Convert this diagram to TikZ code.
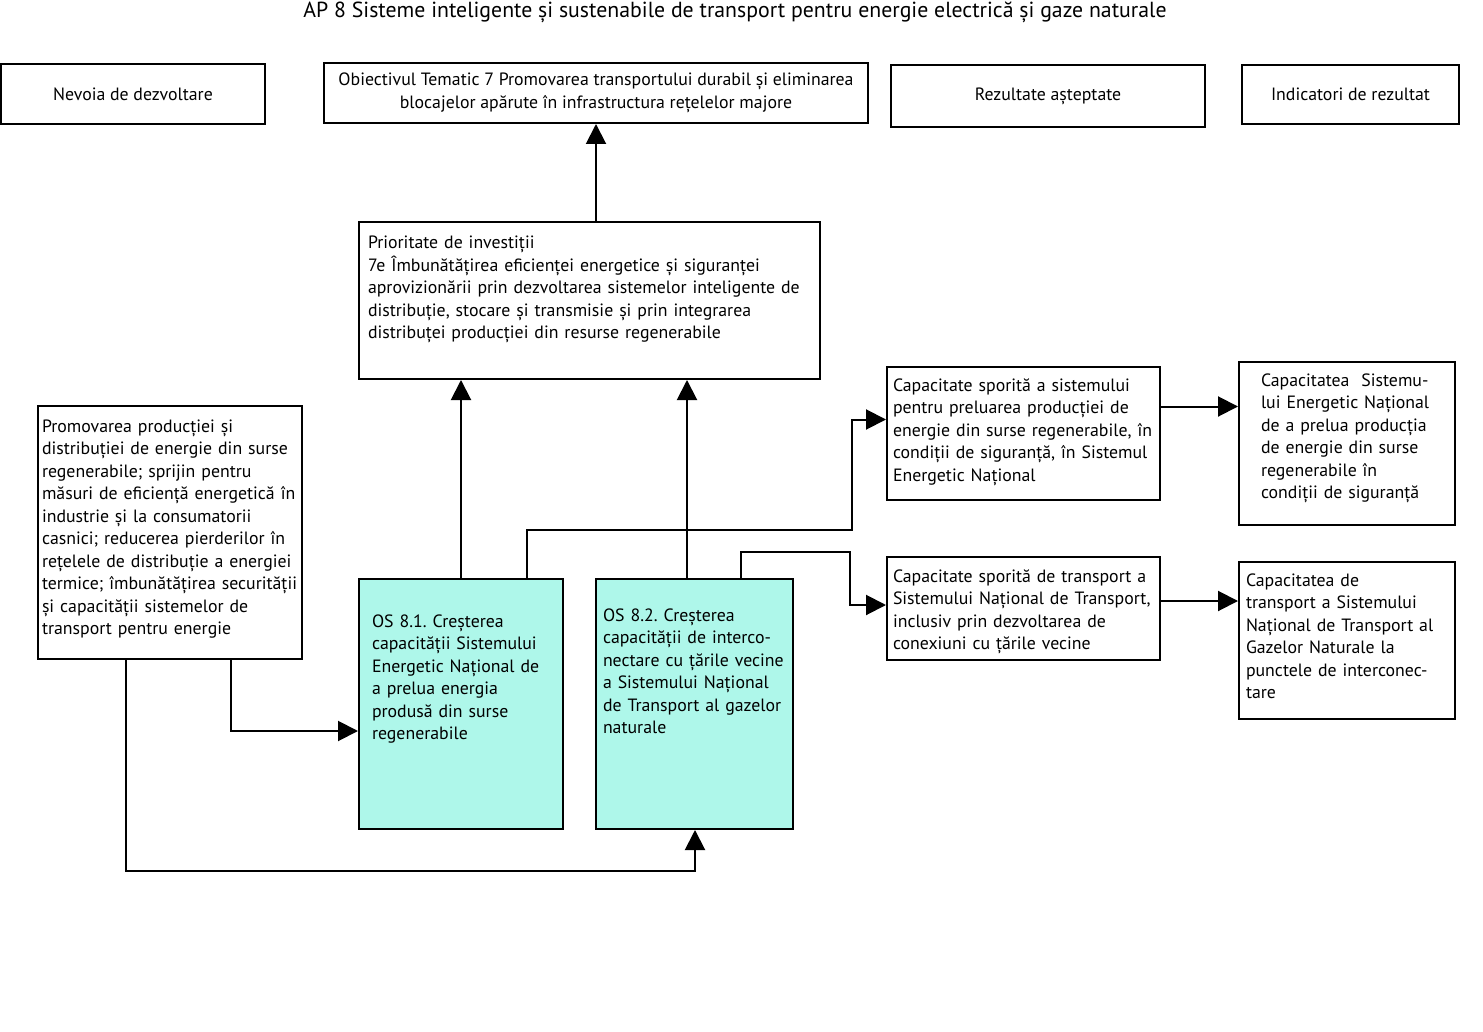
\documentclass[tikz,border=0pt]{standalone}
\usepackage{fontspec}
\setmainfont{PT Sans}
\usepackage{tikz}
\usetikzlibrary{arrows.meta,positioning,calc}
\definecolor{osverde}{RGB}{174,247,234}
\frenchspacing
\tikzset{
  capbox/.style={
    rectangle, draw=black, line width=2pt, fill=white,
    align=center, inner sep=0pt,
    font=\fontsize{17.8}{22.5}\selectfont
  },
  txtbox/.style={
    rectangle, draw=black, line width=2pt, fill=white,
    anchor=north west, align=left, inner ysep=0pt,
    font=\fontsize{17.8}{22.5}\selectfont
  },
  osbox/.style={txtbox, fill=osverde},
  sageata/.style={-{Triangle[length=20pt,width=20pt]}, line width=2pt},
  linie/.style={line width=2pt}
}
\begin{document}
\begin{tikzpicture}[x=1pt,y=-1pt]
  \useasboundingbox (0,0) rectangle (1483,1032);

  \node[font=\fontsize{21.8}{26}\selectfont] (titlu) at (735,12)
    {AP 8 Sisteme inteligente și sustenabile de transport pentru energie electrică și gaze naturale};

  % capul de tabel
  \node[capbox, minimum width=264pt, minimum height=60pt] (nev) at (133,94)
    {Nevoia de dezvoltare};
  \node[capbox, minimum width=544pt, minimum height=60pt] (ot7) at (596,93)
    {Obiectivul Tematic 7 Promovarea transportului durabil și eliminarea\\
     blocajelor apărute în infrastructura rețelelor majore};
  \node[capbox, minimum width=314pt, minimum height=62pt] (rez) at (1048,96)
    {Rezultate așteptate};
  \node[capbox, minimum width=217pt, minimum height=59pt] (ind) at (1350.5,94.5)
    {Indicatori de rezultat};

  % prioritatea de investitii
  \node[txtbox, inner xsep=9pt, text width=443pt, text height=27pt, text depth=130pt] (pi7e) at (358,221)
    {Prioritate de investiții\\
     7e Îmbunătățirea eficienței energetice și siguranței\\
     aprovizionării prin dezvoltarea sistemelor inteligente de\\
     distribuție, stocare și transmisie și prin integrarea\\
     distribuței producției din resurse regenerabile};

  % nevoia
  \node[txtbox, inner xsep=4pt, text width=256pt, text height=26pt, text depth=227pt] (prom) at (37,405)
    {Promovarea producției și\\
     distribuției de energie din surse\\
     regenerabile; sprijin pentru\\
     măsuri de eficiență energetică în\\
     industrie și la consumatorii\\
     casnici; reducerea pierderilor în\\
     rețelele de distribuție a energiei\\
     termice; îmbunătățirea securității\\
     și capacității sistemelor de\\
     transport pentru energie};

  % obiective specifice
  \node[osbox, inner xsep=13pt, text width=178pt, text height=48pt, text depth=202pt] (os81) at (358,578)
    {OS 8.1. Creșterea\\
     capacității Sistemului\\
     Energetic Național de\\
     a prelua energia\\
     produsă din surse\\
     regenerabile};
  \node[osbox, inner xsep=7pt, text width=183pt, text height=42pt, text depth=208pt] (os82) at (595,578)
    {OS 8.2. Creșterea\\
     capacității de interco-\\
     nectare cu țările vecine\\
     a Sistemului Național\\
     de Transport al gazelor\\
     naturale};

  % rezultate
  \node[txtbox, inner xsep=6pt, text width=261pt, text height=24pt, text depth=109pt] (rez81) at (886,366)
    {Capacitate sporită a sistemului\\
     pentru preluarea producției de\\
     energie din surse regenerabile, în\\
     condiții de siguranță, în Sistemul\\
     Energetic Național};
  \node[txtbox, inner xsep=6pt, text width=261pt, text height=25pt, text depth=78pt] (rez82) at (886,556)
    {Capacitate sporită de transport a\\
     Sistemului Național de Transport,\\
     inclusiv prin dezvoltarea de\\
     conexiuni cu țările vecine};

  % indicatori
  \node[txtbox, inner xsep=22pt, text width=172pt, text height=24pt, text depth=139pt] (ind81) at (1238,361)
    {Capacitatea\ \ Sistemu-\\
     lui Energetic Național\\
     de a prelua producția\\
     de energie din surse\\
     regenerabile în\\
     condiții de siguranță};
  \node[txtbox, inner xsep=7pt, text width=202pt, text height=24pt, text depth=133pt] (ind82) at (1238,561)
    {Capacitatea de\\
     transport a Sistemului\\
     Național de Transport al\\
     Gazelor Naturale la\\
     punctele de interconec-\\
     tare};

  % sageti
  \draw[sageata] (pi7e.north -| ot7.south) -- (ot7.south);
  \draw[sageata] (os81.north) -- (os81.north |- pi7e.south);
  \draw[sageata] ([xshift=92pt]os82.north west) -- ([xshift=92pt]os82.north west |- pi7e.south);
  \draw[sageata] ([xshift=169pt]os81.north west) -- ++(0,-48) -- ++(325,0) |- ([yshift=14pt]rez81.west);
  \draw[sageata] ([xshift=146pt]os82.north west) -- ++(0,-26) -- ++(109,0) |- ([yshift=3.5pt]rez82.west);
  \draw[sageata] ([yshift=27pt]rez81.east) -- ([yshift=27pt]rez81.east -| ind81.west);
  \draw[sageata] ([yshift=7.5pt]rez82.east) -- ([yshift=7.5pt]rez82.east -| ind82.west);
  \draw[sageata] ([xshift=194pt]prom.south west) |- ([yshift=-27pt]os81.west);
  \draw[sageata] ([xshift=89pt]prom.south west) -- ++(0,211) -| ([xshift=100pt]os82.south west);
\end{tikzpicture}
\end{document}
